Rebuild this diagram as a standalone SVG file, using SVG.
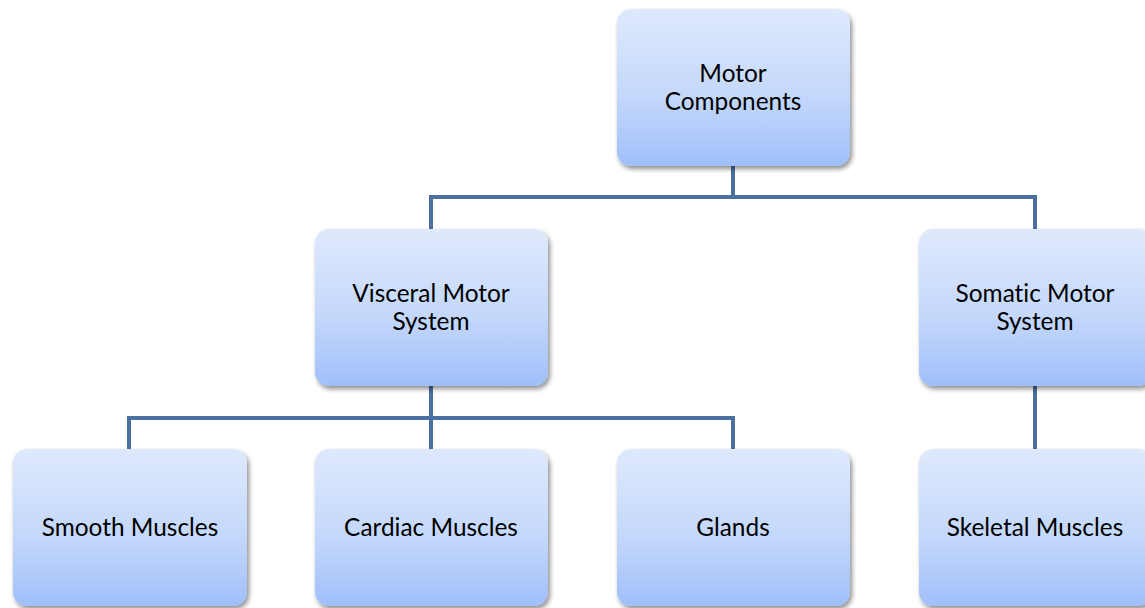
<svg xmlns="http://www.w3.org/2000/svg" width="1145" height="608" viewBox="0 0 1145 608">
  <defs>
    <linearGradient id="boxFill" x1="0" y1="0" x2="0" y2="1">
      <stop offset="0" stop-color="#dfe9fc"/>
      <stop offset="0.55" stop-color="#c4d8fb"/>
      <stop offset="1" stop-color="#a0bffa"/>
    </linearGradient>
    <filter id="shadow" x="-10%" y="-10%" width="125%" height="125%">
      <feGaussianBlur in="SourceAlpha" stdDeviation="2.5"/>
      <feOffset dx="2" dy="3" result="b"/>
      <feComponentTransfer><feFuncA type="linear" slope="0.45"/></feComponentTransfer>
      <feMerge><feMergeNode/><feMergeNode in="SourceGraphic"/></feMerge>
    </filter>
  </defs>
  <style>
    .box { fill: url(#boxFill); filter: url(#shadow); }
    .label { font-family: Lato, "Open Sans", "Liberation Sans", sans-serif; font-size: 24.4px; fill: #000; text-anchor: middle; font-variant-ligatures: none; }
    .conn { fill: none; stroke: #4a6fa0; stroke-width: 4; }
  </style>

  <rect width="1145" height="608" fill="#ffffff"/>

  <g id="connectors">
    <path class="conn" d="M733 166 V197 M431 229 V197 H1035 V229"/>
    <path class="conn" d="M431 386 V418 M129 449 V418 H733 V449 M431 418 V449"/>
    <path class="conn" d="M1035 386 V449"/>
  </g>

  <g id="motor-components">
    <rect class="box" x="617" y="9" width="233" height="157" rx="14"/>
    <text class="label" x="733" y="82">Motor</text>
    <text class="label" x="733" y="110">Components</text>
  </g>

  <g id="visceral-motor-system">
    <rect class="box" x="315" y="229" width="233" height="157" rx="14"/>
    <text class="label" x="431" y="302">Visceral Motor</text>
    <text class="label" x="431" y="330">System</text>
  </g>

  <g id="somatic-motor-system">
    <rect class="box" x="919" y="229" width="233" height="157" rx="14"/>
    <text class="label" x="1035" y="302">Somatic Motor</text>
    <text class="label" x="1035" y="330">System</text>
  </g>

  <g id="smooth-muscles">
    <rect class="box" x="13" y="449" width="234" height="157" rx="14"/>
    <text class="label" x="130" y="536">Smooth Muscles</text>
  </g>

  <g id="cardiac-muscles">
    <rect class="box" x="315" y="449" width="233" height="157" rx="14"/>
    <text class="label" x="431" y="536">Cardiac Muscles</text>
  </g>

  <g id="glands">
    <rect class="box" x="617" y="449" width="233" height="157" rx="14"/>
    <text class="label" x="733" y="536">Glands</text>
  </g>

  <g id="skeletal-muscles">
    <rect class="box" x="919" y="449" width="233" height="157" rx="14"/>
    <text class="label" x="1035" y="536">Skeletal Muscles</text>
  </g>
</svg>
